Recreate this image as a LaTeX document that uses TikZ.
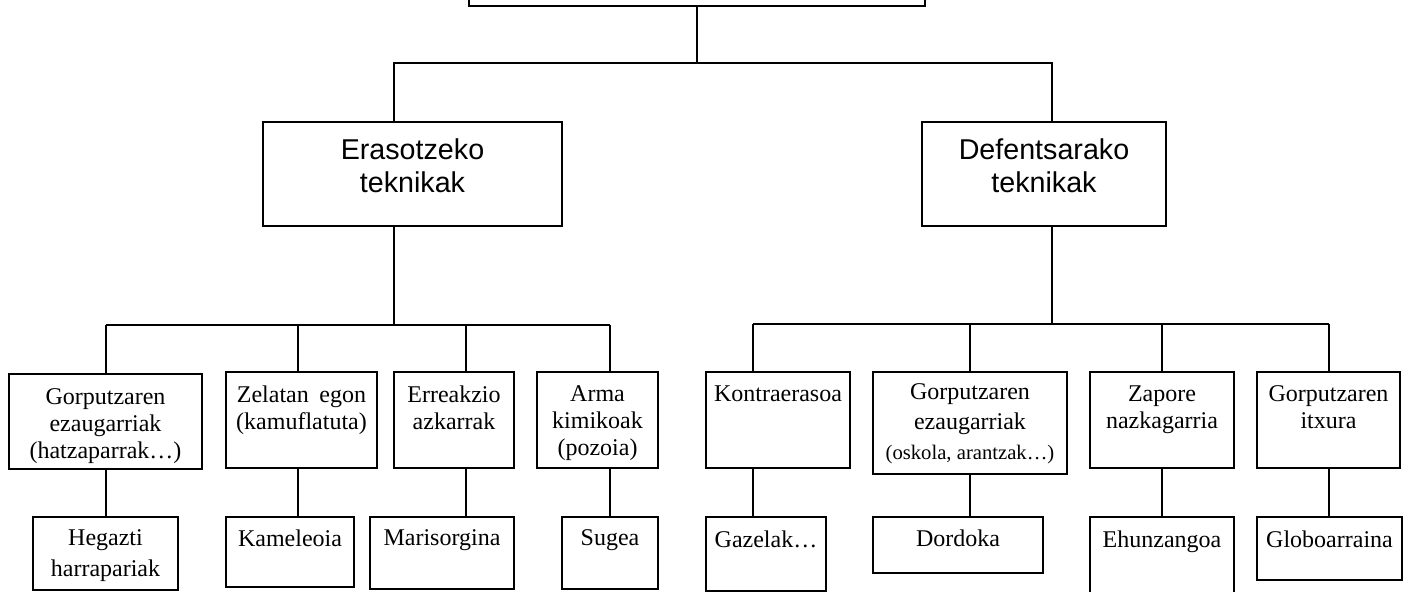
\documentclass[tikz,border=0pt]{standalone}
\usepackage{fontspec}
\setmainfont{Liberation Serif}
\newfontfamily\arialf{Liberation Sans}
\usetikzlibrary{calc}
\tikzset{
  box/.style={draw, line width=1.4pt, inner sep=0pt, rectangle},
  wire/.style={line width=1.4pt},
  sanst/.style={font=\arialf\fontsize{21.5}{24.75}\selectfont, align=center, inner sep=0pt, anchor=north},
  sert/.style={font=\fontsize{18}{20.25}\selectfont, align=center, inner sep=0pt, anchor=north},
}
\newcommand\bx[5]{\node[box, minimum width={(#4-#2)*0.75pt}, minimum height={(#5-#3)*0.75pt}] (#1) at ({(#2+#4)/2},{(#3+#5)/2}) {};}
\begin{document}
\begin{tikzpicture}[x=0.75pt,y=-0.75pt]
\useasboundingbox (0,0) rectangle (1411,592);
\clip (0,0) rectangle (1411,592);
% boxes
\bx{top}{469}{-80}{925}{6}
\bx{ero}{263}{122}{562}{226}
\bx{def}{922}{122}{1166}{226}
\bx{A1}{9}{374}{202}{469}
\bx{A2}{226}{372}{377}{468}
\bx{A3}{394}{372}{514}{468}
\bx{A4}{537}{372}{658}{468}
\bx{B1}{706}{372}{850}{468}
\bx{B2}{873}{372}{1067}{474}
\bx{B3}{1090}{372}{1234}{468}
\bx{B4}{1257}{372}{1400}{468}
\bx{C1}{33}{517}{178}{590}
\bx{C2}{226}{517}{354}{587}
\bx{C3}{370}{517}{514}{589}
\bx{C4}{562}{517}{658}{589}
\bx{D1}{706}{517}{826}{591}
\bx{D2}{873}{517}{1043}{573}
\bx{D3}{1090}{517}{1234}{610}
\bx{D4}{1257}{517}{1402}{580}
% texts
\node[sanst] (tero) at ($(ero.north)+(0,17)$) {Erasotzeko\\teknikak};
\node[sanst] (tdef) at ($(def.north)+(0,17)$) {Defentsarako\\teknikak};
\node[sert] (tA1) at ($(A1.north)+(0,15)$) {Gorputzaren\\ezaugarriak\\(hatzaparrak…)};
\node[sert] (tA2) at ($(A2.north)+(0,14.5)$) {Zelatan\hspace{8pt}egon\\(kamuflatuta)};
\node[sert] (tA3) at ($(A3.north)+(0,14.5)$) {Erreakzio\\azkarrak};
\node[sert] (tA4) at ($(A4.north)+(0,14.5)$) {Arma\\kimikoak\\(pozoia)};
\node[sert] (tB1) at ($(B1.north)+(0,14.5)$) {Kontraerasoa};
\node[sert, font=\fontsize{18}{22.5}\selectfont] (tB2) at ($(B2.north)+(0,12.5)$) {Gorputzaren\\ezaugarriak\\{\fontsize{15.5}{18}\selectfont(oskola, arantzak…)}};
\node[sert] (tB3) at ($(B3.north)+(0,14.5)$) {Zapore\\nazkagarria};
\node[sert] (tB4) at ($(B4.north)+(0,14.5)$) {Gorputzaren\\itxura};
\node[sert, font=\fontsize{18}{23.25}\selectfont] (tC1) at ($(C1.north)+(0,13)$) {Hegazti\\harrapariak};
\node[sert] (tC2) at ($(C2.north)+(0,13.5)$) {Kameleoia};
\node[sert] (tC3) at ($(C3.north)+(0,13.5)$) {Marisorgina};
\node[sert] (tC4) at ($(C4.north)+(0,13.5)$) {Sugea};
\node[sert] (tD1) at ($(D1.north)+(0,14.5)$) {Gazelak…};
\node[sert] (tD2) at ($(D2.north)+(0,13.5)$) {Dordoka};
\node[sert] (tD3) at ($(D3.north)+(0,14.5)$) {Ehunzangoa};
\node[sert] (tD4) at ($(D4.north)+(0,14.5)$) {Globoarraina};
% junction coordinates
\coordinate (hl) at (394,63);
\coordinate (hr) at (1052,63);
\coordinate (cA1) at (106,325);
\coordinate (cA2) at (298,325);
\coordinate (cA3) at (466,325);
\coordinate (cA4) at (610,325);
\coordinate (cB1) at (753,324);
\coordinate (cB2) at (970,324);
\coordinate (cB3) at (1162,324);
\coordinate (cB4) at (1329,324);
% connectors
\draw[wire] (top.south) -- (top.south |- hl);
\draw[wire] (ero.north -| hl) -- (hl) -- (hr) -- (def.north -| hr);
\draw[wire] (ero.south -| hl) -- (hl |- cA1);
\draw[wire] (def.south -| hr) -- (hr |- cB1);
\draw[wire] (cA1) -- (cA4);
\draw[wire] (cB1) -- (cB4);
\foreach \n in {A1,A2,A3,A4,B1,B2,B3,B4}{
  \draw[wire] (c\n) -- (c\n |- \n.north);
}
\foreach \n/\m in {A1/C1,A2/C2,A3/C3,A4/C4,B1/D1,B2/D2,B3/D3,B4/D4}{
  \draw[wire] (\n.south -| c\n) -- (\m.north -| c\n);
}
\end{tikzpicture}
\end{document}
